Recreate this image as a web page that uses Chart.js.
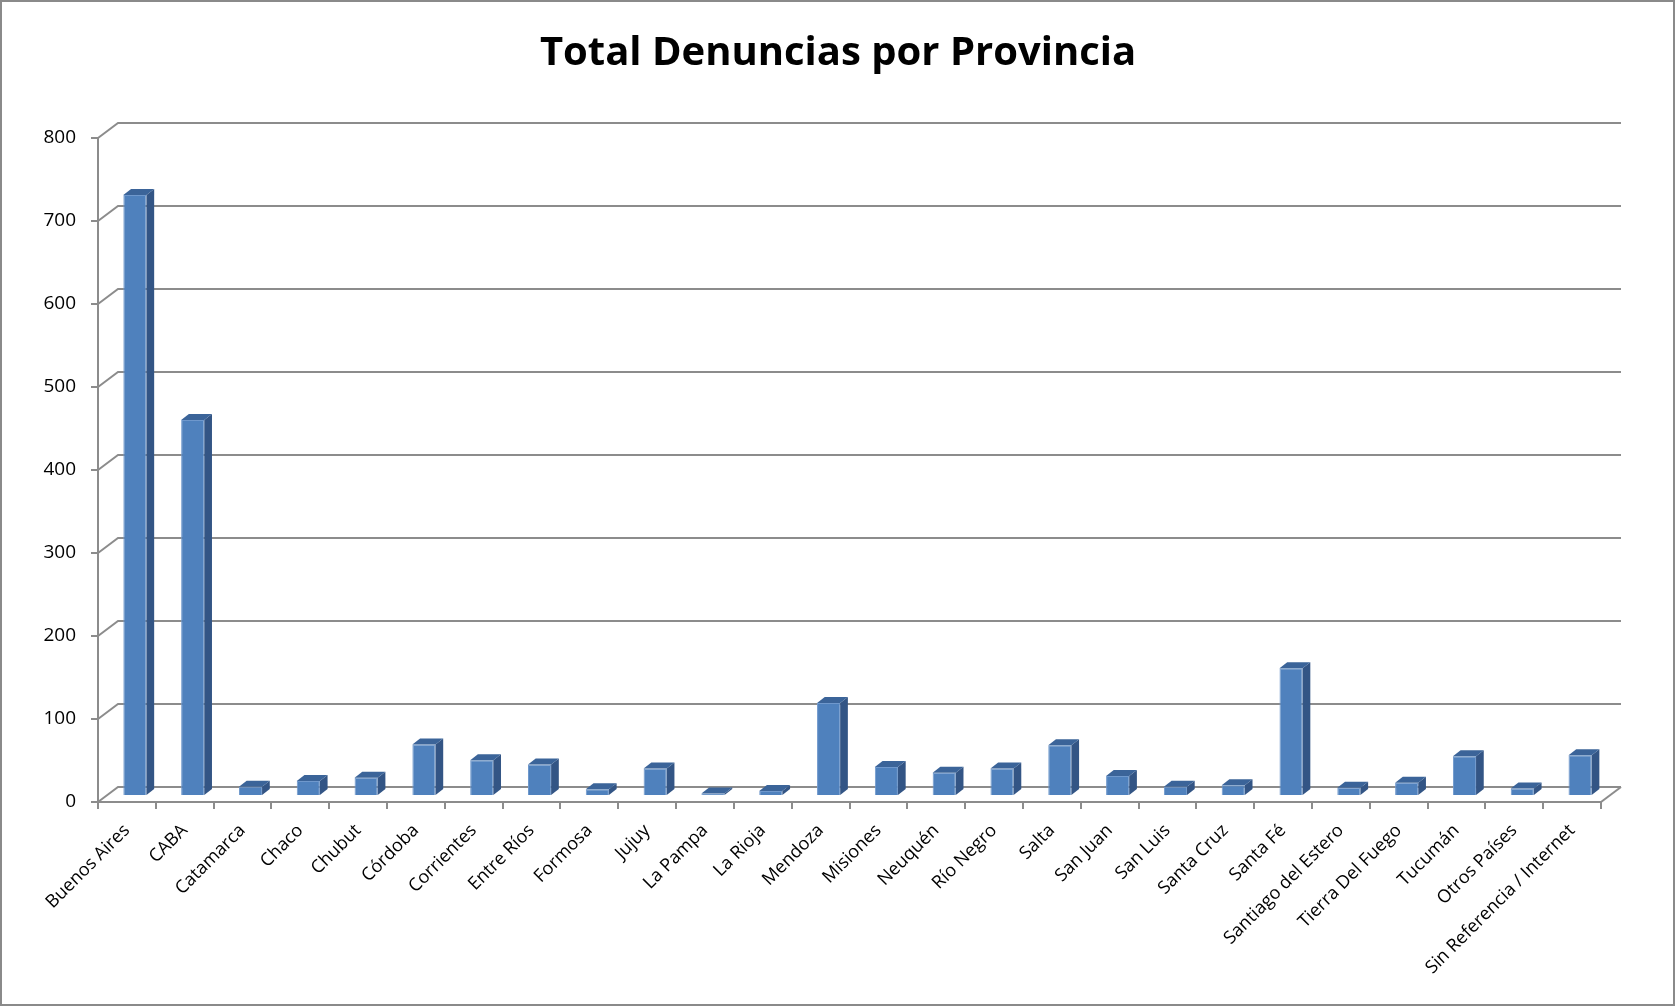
<!DOCTYPE html>
<html>
<head>
<meta charset="utf-8">
<title>Total Denuncias por Provincia</title>
<script src="https://cdn.jsdelivr.net/npm/chart.js"></script>
<style>
  html, body { margin: 0; padding: 0; background: #fff; }
  canvas { display: block; }
</style>
</head>
<body>
<canvas id="chart" width="1676" height="1008"></canvas>
<script>
const provincias = ["Buenos Aires", "CABA", "Catamarca", "Chaco", "Chubut", "Córdoba", "Corrientes",
  "Entre Ríos", "Formosa", "Jujuy", "La Pampa", "La Rioja", "Mendoza", "Misiones", "Neuquén",
  "Río Negro", "Salta", "San Juan", "San Luis", "Santa Cruz", "Santa Fé", "Santiago del Estero",
  "Tierra Del Fuego", "Tucumán", "Otros Países", "Sin Referencia / Internet"];
const denuncias = [724, 453, 11, 18, 22, 62, 43, 38, 8, 33, 3, 6, 112, 35, 28, 33, 61, 24, 11, 13,
  154, 10, 16, 48, 9, 49];
const ejeY = { min: 0, max: 800, paso: 100 };
const titulo = 'Total Denuncias por Provincia';

// 3D look: back wall offset and bar depth
const DX = 20, DY = 15, FRENTE = 0.4;
const BAR_DX = 7.7, BAR_DY = 6;
const GRIS = '#8c8c8c';

const efecto3d = {
  id: 'efecto3d',
  beforeDraw(chart) {
    const ctx = chart.ctx;
    ctx.save();
    ctx.fillStyle = '#fff';
    ctx.fillRect(0, 0, chart.width, chart.height);
    ctx.strokeStyle = '#8a8a8a';
    ctx.lineWidth = 2;
    ctx.strokeRect(1, 1, chart.width - 3, chart.height - 4);
    ctx.fillStyle = '#000';
    ctx.font = 'bold 40px "Open Sans"';
    ctx.textAlign = 'center';
    ctx.textBaseline = 'middle';
    ctx.fillText(titulo, chart.width / 2, 54);
    ctx.restore();
  },
  beforeDatasetsDraw(chart) {
    const { ctx, chartArea: { left, right, bottom }, scales: { y } } = chart;
    ctx.save();
    ctx.strokeStyle = GRIS;
    ctx.lineWidth = 2;
    y.ticks.forEach(t => {
      const py = y.getPixelForValue(t.value);
      ctx.beginPath();
      ctx.moveTo(left, py);
      ctx.lineTo(left + DX, py - DY);
      ctx.lineTo(right + DX, py - DY);
      ctx.stroke();
    });
    ctx.beginPath();
    ctx.moveTo(right, bottom);
    ctx.lineTo(right + DX, bottom - DY);
    ctx.stroke();
    // bars stand inside the depth
    ctx.translate(DX * FRENTE, -DY * FRENTE);
  },
  afterDatasetsDraw(chart) {
    const ctx = chart.ctx;
    chart.getDatasetMeta(0).data.forEach(bar => {
      const { x, y, base, width } = bar.getProps(['x', 'y', 'base', 'width'], true);
      const l = x - width / 2, r = x + width / 2;
      ctx.fillStyle = '#335585';
      ctx.beginPath();
      ctx.moveTo(r, y);
      ctx.lineTo(r + BAR_DX, y - BAR_DY);
      ctx.lineTo(r + BAR_DX, base - BAR_DY);
      ctx.lineTo(r, base);
      ctx.closePath();
      ctx.fill();
      ctx.fillStyle = '#3b6499';
      ctx.beginPath();
      ctx.moveTo(l, y);
      ctx.lineTo(l + BAR_DX, y - BAR_DY);
      ctx.lineTo(r + BAR_DX, y - BAR_DY);
      ctx.lineTo(r, y);
      ctx.closePath();
      ctx.fill();
    });
    ctx.restore();
  }
};

new Chart(document.getElementById('chart').getContext('2d'), {
  type: 'bar',
  data: {
    labels: provincias,
    datasets: [{
      label: 'Total Denuncias',
      data: denuncias,
      backgroundColor: '#4f81bd',
      borderColor: '#6f98cc',
      borderWidth: 1,
      categoryPercentage: 1,
      barPercentage: 0.4,
      clip: false
    }]
  },
  options: {
    responsive: false,
    animation: false,
    layout: { padding: { top: 138, left: 0, right: 75, bottom: 0 } },
    plugins: {
      legend: { display: false },
      tooltip: { enabled: false },
      title: { display: false }
    },
    scales: {
      x: {
        grid: { drawOnChartArea: false, drawTicks: true, tickLength: 7, color: GRIS, lineWidth: 2 },
        border: { display: true, color: GRIS, width: 2 },
        ticks: {
          autoSkip: false, maxRotation: 45, minRotation: 45, padding: 11,
          color: '#000', font: { family: 'Open Sans', size: 18 }
        },
        afterFit(scale) { scale.height = 206; }
      },
      y: {
        min: ejeY.min, max: ejeY.max,
        grid: { drawOnChartArea: false, drawTicks: true, tickLength: 7, color: GRIS, lineWidth: 2 },
        border: { display: true, color: GRIS, width: 2 },
        ticks: {
          stepSize: ejeY.paso, padding: 15,
          color: '#000', font: { family: 'Open Sans', size: 19 }
        },
        afterFit(scale) { scale.width = 98; }
      }
    }
  },
  plugins: [efecto3d]
});
</script>
</body>
</html>
